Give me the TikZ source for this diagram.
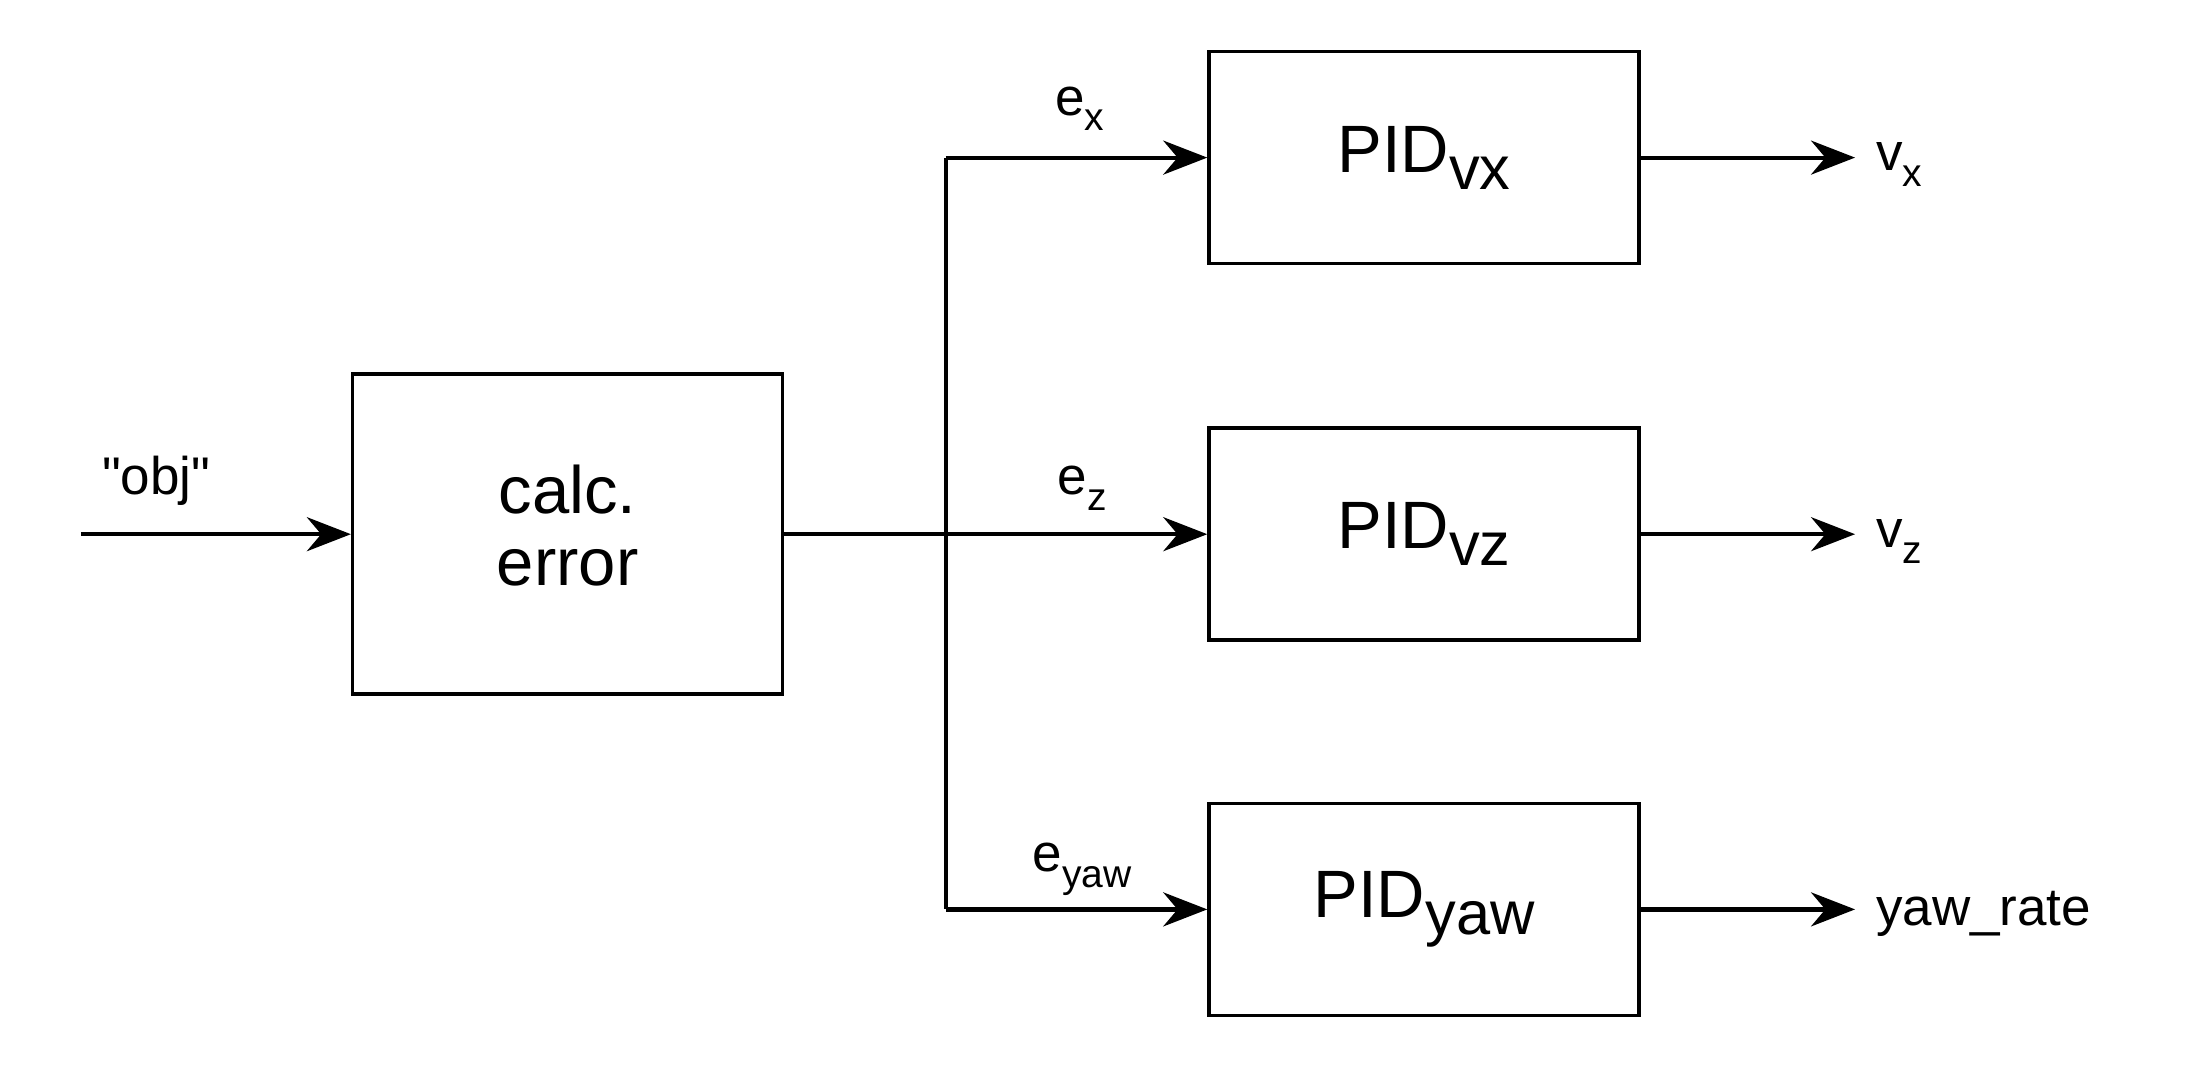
\documentclass[tikz,border=0pt]{standalone}
\usepackage{fontspec}
\setmainfont{Liberation Sans}
\usetikzlibrary{arrows.meta}
\newcommand{\sbx}[1]{\raisebox{-0.25em}{\fontsize{30.7}{33}\selectfont #1}}
\newcommand{\sbl}[1]{\raisebox{-0.3em}{\fontsize{19.5}{22}\selectfont #1}}
\begin{document}
\begin{tikzpicture}[x=0.6974pt,y=-0.6974pt,
  blk/.style={draw,line width=1.8pt,minimum width=215pt,minimum height=106pt,font=\fontsize{33.5}{39}\selectfont},
  con/.style={line width=2.1pt,-{Stealth[length=22pt,width=17pt]}},
  lbl/.style={font=\fontsize{26.5}{31}\selectfont}]
\useasboundingbox (0,0) rectangle (1568,782);
\node[blk,minimum height=160pt] (calc) at (407,383) {\begin{tabular}{c}calc.\\[-3pt]error\end{tabular}};
\node[blk] (pvx) at (1021,113) {PID\sbx{vx}};
\node[blk] (pvz) at (1021,383) {PID\sbx{vz}};
\node[blk] (pyaw) at (1021,652) {PID\sbx{yaw}};
\coordinate (in) at (58,383);
\coordinate (bt) at (678,113);
\coordinate (bm) at (678,383);
\coordinate (bb) at (678,652);
\coordinate (ox) at (1330,113);
\coordinate (oz) at (1330,383);
\coordinate (oy) at (1330,652);
\draw[con] (in) -- (calc);
\node[lbl] (obj) at (112,345) {\textquotedbl obj\textquotedbl};
\draw[line width=2.1pt] (calc.east) -- (bm);
\draw[line width=2.1pt] (bt) -- (bb);
\draw[con] (bt) -- (pvx.west);
\draw[con] (bm) -- (pvz.west);
\draw[con] (bb) -- (pyaw.west);
\node[lbl] (ex) at (774,78) {e\sbl{x}};
\node[lbl] (ez) at (776,350) {e\sbl{z}};
\node[lbl] (ey) at (776,623) {e\sbl{yaw}};
\draw[con] (pvx.east) -- (ox);
\draw[con] (pvz.east) -- (oz);
\draw[con] (pyaw.east) -- (oy);
\node[lbl,anchor=west] (vx) at (1340,118) {v\sbl{x}};
\node[lbl,anchor=west] (vz) at (1340,388) {v\sbl{z}};
\node[lbl,anchor=west] (yr) at (1340,655) {yaw\_rate};
\end{tikzpicture}
\end{document}
